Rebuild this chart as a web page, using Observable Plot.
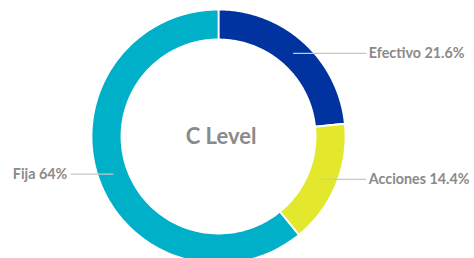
<!DOCTYPE html>
<html>
<head>
<meta charset="utf-8">
<script src="https://cdn.jsdelivr.net/npm/d3@7"></script>
<script src="https://cdn.jsdelivr.net/npm/@observablehq/plot@0.6"></script>
<style>
  html, body { margin: 0; padding: 0; background: #ffffff; }
  #chart { width: 474px; height: 258px; overflow: hidden; }
</style>
</head>
<body>
<div id="chart"></div>
<script>
// Data
const categories = ["Efectivo", "Acciones", "Fija"];
const labelValues = [21.6, 14.4, 64];          // percentages printed in the labels
const arcShares = [23.4, 15.7, 60.9];          // share of the ring each slice covers (measured)
const sliceColors = ["#0033a0", "#e3e82c", "#00afc8"];
const centerTitle = "C Level";

const INNER = 0.764;   // inner radius relative to outer
const MID = (1 + INNER) / 2;
const LABEL_X = 1.16;  // end of leader lines in radius units

const pie = d3.pie().sort(null).value(d => d.share);
const slices = pie(categories.map((c, i) => ({
  category: c, value: labelValues[i], share: arcShares[i], color: sliceColors[i]
})));

// ring polygons in unit coordinates (x right, y up)
const ring = [];
for (const s of slices) {
  const n = 120;
  for (let k = 0; k <= n; k++) {
    const a = s.startAngle + (s.endAngle - s.startAngle) * k / n;
    ring.push({category: s.data.category, x: Math.sin(a), y: Math.cos(a)});
  }
  for (let k = n; k >= 0; k--) {
    const a = s.startAngle + (s.endAngle - s.startAngle) * k / n;
    ring.push({category: s.data.category, x: INNER * Math.sin(a), y: INNER * Math.cos(a)});
  }
}

// leader lines and labels
const leaders = [];
const labels = [];
for (const s of slices) {
  const a = (s.startAngle + s.endAngle) / 2;
  const x0 = MID * Math.sin(a), y0 = MID * Math.cos(a);
  const right = x0 > 0;
  const x1 = right ? LABEL_X : -LABEL_X;
  leaders.push({category: s.data.category, x: x0, y: y0});
  leaders.push({category: s.data.category, x: x1, y: y0});
  labels.push({x: x1, y: y0, right, text: `${s.data.category} ${s.data.value}%`});
}

const font = "Lato, 'Open Sans', sans-serif";
const chart = Plot.plot({
  width: 474,
  height: 258,
  x: {domain: [-1, 1], range: [91, 345], axis: null},
  y: {domain: [-1, 1], range: [263, 9], axis: null},
  color: {domain: categories, range: sliceColors},
  style: {background: "#ffffff", overflow: "hidden"},
  marks: [
    Plot.line(ring, {x: "x", y: "y", z: "category", fill: "category", stroke: "#ffffff", strokeWidth: 1.8, curve: "linear-closed"}),
    Plot.line(leaders, {x: "x", y: "y", z: "category", stroke: "#c8c8c8", strokeWidth: 1.2}),
    Plot.text(labels.filter(d => d.right), {x: "x", y: "y", text: "text", textAnchor: "start", dx: 3, fill: "#8a8a8a", fontSize: 14.3, fontWeight: "bold", fontFamily: font}),
    Plot.text(labels.filter(d => !d.right), {x: "x", y: "y", text: "text", textAnchor: "end", dx: -4, fill: "#8a8a8a", fontSize: 14.3, fontWeight: "bold", fontFamily: font}),
    Plot.text([centerTitle], {x: [0.02], y: [0], text: d => d, fill: "#8a8a8a", fontSize: 22, fontWeight: "bold", fontFamily: font})
  ]
});
document.getElementById("chart").appendChild(chart);
</script>
</body>
</html>
